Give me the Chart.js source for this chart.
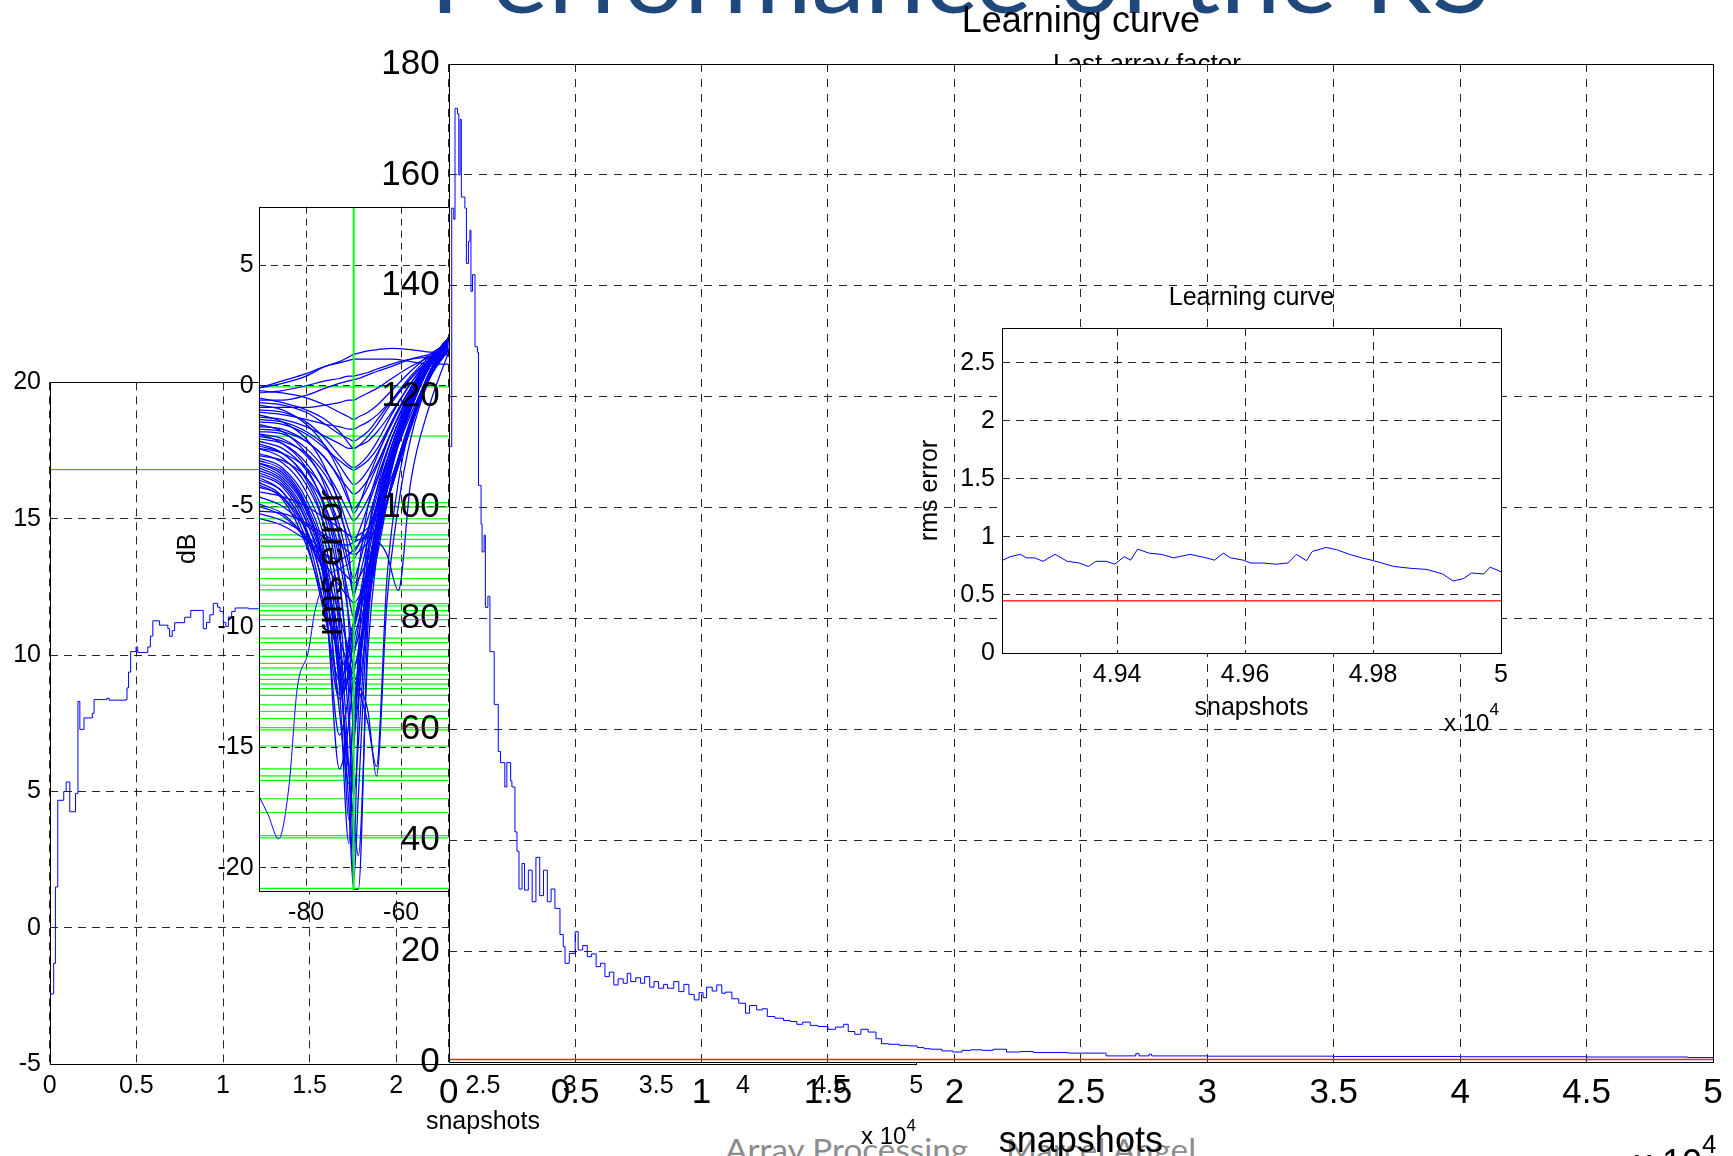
<!DOCTYPE html>
<html>
<head>
<meta charset="utf-8">
<title>Learning curve</title>
<script src="https://cdn.jsdelivr.net/npm/chart.js@4.4.1/dist/chart.umd.min.js"></script>
<style>
html, body { margin:0; padding:0; background:#ffffff; }
body { width:1733px; height:1156px; position:relative; overflow:hidden; }
canvas { position:absolute; }
.t { position:absolute; white-space:nowrap; line-height:1; font-family:'Liberation Sans', Arial, Helvetica, sans-serif; color:#000; }
.sl { font-family: Lato, 'Open Sans', sans-serif; }
.sup { position:relative; }
</style>
</head>
<body>
<div id="slideTitle" class="t sl" style="left:430px; top:-72px; font-size:96px; color:#1F497D; z-index:0;">Performance of the RS</div>
<div id="foot1" class="t sl" style="left:725px; top:1134px; font-size:30px; color:#8c8c8c; z-index:0;">Array Processing</div>
<div id="foot2" class="t sl" style="left:1006px; top:1134px; font-size:30px; color:#8c8c8c; z-index:0;">Marcel Angel</div>
<canvas id="cLeft" width="1733" height="1156" style="left:0;top:0;z-index:1"></canvas>
<canvas id="cMid" width="1733" height="1156" style="left:0;top:0;z-index:2"></canvas>
<div class="t" style="left:1147px; top:49.6px; font-size:26px; transform:translateX(-50%); z-index:3;">Last array factor</div>
<canvas id="cMain" width="1733" height="1156" style="left:0;top:0;z-index:4"></canvas>
<canvas id="cInset" width="660" height="500" style="left:880px;top:250px;z-index:5"></canvas>
<div class="t" style="left:861px; top:1123.7px; font-size:24px; z-index:6;">x 10<span class="sup" style="font-size:17px; top:-13px;">4</span></div>
<div class="t" style="left:1444px; top:711.4px; font-size:24px; z-index:6;">x 10<span class="sup" style="font-size:17px; top:-16px;">4</span></div>
<div class="t" style="left:1634px; top:1145.3px; font-size:36px; z-index:6;">x 10<span class="sup" style="font-size:26px; top:-22px;">4</span></div>

<script>
// ---------------- DATA ----------------
// Main learning curve (snapshots in units of 10^4, rms error)
const mainX = [0, 0.002, 0.012, 0.02, 0.025, 0.035, 0.04, 0.045, 0.05, 0.064, 0.07, 0.078, 0.084, 0.088, 0.094, 0.104, 0.114, 0.118, 0.128, 0.132, 0.14, 0.145, 0.155, 0.163, 0.18, 0.196, 0.205, 0.222, 0.23, 0.245, 0.25, 0.262, 0.27, 0.278, 0.29, 0.3, 0.315, 0.33, 0.345, 0.36, 0.375, 0.39, 0.405, 0.42, 0.44, 0.453, 0.46, 0.477, 0.5, 0.512, 0.53, 0.548, 0.565, 0.583, 0.6, 0.618, 0.635, 0.653, 0.67, 0.69, 0.706, 0.72, 0.74, 0.759, 0.775, 0.795, 0.812, 0.83, 0.85, 0.865, 0.89, 0.91, 0.93, 0.95, 0.971, 0.99, 1.006, 1.02, 1.042, 1.06, 1.08, 1.094, 1.12, 1.147, 1.174, 1.19, 1.218, 1.24, 1.26, 1.29, 1.324, 1.35, 1.377, 1.4, 1.43, 1.46, 1.5, 1.53, 1.562, 1.58, 1.606, 1.63, 1.659, 1.69, 1.712, 1.74, 1.782, 1.82, 1.853, 1.88, 1.906, 1.95, 1.994, 2.03, 2.065, 2.11, 2.153, 2.206, 2.26, 2.312, 2.45, 2.594, 2.6, 2.717, 2.73, 2.77, 2.78, 3.0, 3.5, 4.0, 4.5, 4.9, 5.0];
const mainY = [0, 111, 154, 152, 172, 171, 160, 170, 156, 154, 144, 148, 150, 139, 142, 129, 128, 104, 97, 92, 95, 82, 84, 74, 64.5, 56, 54, 49.6, 54, 50.7, 49.6, 41.5, 38, 31.2, 35.8, 31, 34.6, 28.9, 36.9, 30, 34.6, 28.9, 31.2, 27.7, 23, 20.8, 17.8, 19.6, 23.5, 20.2, 21, 19, 19.5, 17.2, 17.8, 15.4, 16.2, 13.9, 15, 14.2, 16, 14.5, 15.2, 14.2, 15.4, 13.5, 14.5, 13.3, 14, 13.3, 14.5, 12.7, 14, 12.2, 11.2, 12.5, 11.6, 13.5, 12.8, 13.9, 12.4, 12.6, 11.4, 10.6, 8.8, 10.2, 9.4, 9.6, 8.2, 7.9, 7.5, 7.3, 6.8, 7.2, 6.6, 6.4, 5.9, 6.3, 6.8, 5.5, 5, 5.9, 5.4, 4.2, 3.3, 3.2, 3, 2.9, 2.6, 2.4, 2.3, 2, 1.8, 2.1, 2.2, 2.1, 2.3, 1.8, 1.9, 1.7, 1.6, 1.6, 1.1, 1.5, 1.1, 1.4, 1.1, 1.05, 1.0, 0.95, 0.9, 0.8, 0.7];
const mainRefX = [0, 5];
const mainRefY = [0.45, 0.45];
const mainXTicks = [0, 0.5, 1, 1.5, 2, 2.5, 3, 3.5, 4, 4.5, 5];
const mainYTicks = [0, 20, 40, 60, 80, 100, 120, 140, 160, 180];

// Inset: last part of the learning curve
const insetX = [4.9221, 4.9233, 4.9249, 4.9258, 4.9271, 4.9284, 4.9303, 4.9322, 4.9341, 4.9355, 4.9367, 4.9383, 4.9396, 4.9411, 4.9421, 4.9432, 4.9450, 4.9469, 4.9488, 4.9514, 4.9539, 4.9552, 4.9566, 4.9577, 4.9597, 4.9609, 4.9629, 4.9648, 4.9667, 4.9680, 4.9696, 4.9705, 4.9727, 4.9743, 4.9763, 4.9782, 4.9801, 4.9833, 4.9858, 4.9884, 4.9909, 4.9925, 4.9941, 4.9954, 4.9973, 4.9983, 5.0];
const insetY = [0.80, 0.83, 0.85, 0.82, 0.82, 0.79, 0.85, 0.79, 0.775, 0.745, 0.79, 0.79, 0.765, 0.83, 0.80, 0.895, 0.86, 0.85, 0.82, 0.85, 0.82, 0.80, 0.86, 0.82, 0.80, 0.775, 0.775, 0.765, 0.775, 0.85, 0.795, 0.875, 0.91, 0.89, 0.85, 0.82, 0.795, 0.745, 0.73, 0.72, 0.68, 0.62, 0.64, 0.69, 0.68, 0.74, 0.70];
const insetRefX = [4.922, 5.0];
const insetRefY = [0.45, 0.45];
const insetRange = [4.922, 5.0];
const insetYRange = [0, 2.8];
const insetXTicks = [4.94, 4.96, 4.98, 5];
const insetYTicks = [0, 0.5, 1, 1.5, 2, 2.5];

// Left (back) figure: dB vs snapshots
const leftX = [0, 0.023, 0.033, 0.0465, 0.081, 0.095, 0.116, 0.149, 0.163, 0.174, 0.198, 0.246, 0.256, 0.314, 0.329, 0.343, 0.44, 0.446, 0.455, 0.467, 0.498, 0.508, 0.566, 0.581, 0.595, 0.634, 0.682, 0.692, 0.707, 0.721, 0.779, 0.814, 0.876, 0.886, 0.905, 0.924, 0.944, 0.969, 0.983, 1.002, 1.016, 1.031, 1.05, 1.07, 1.147, 1.3, 1.6, 2.0];
const leftY = [-2.42, -1.3, 1.5, 4.68, 5.0, 5.35, 4.26, 4.93, 8.3, 7.28, 7.7, 7.87, 8.37, 8.37, 8.42, 8.35, 8.37, 8.8, 9.38, 10.13, 10.3, 10.1, 10.3, 10.7, 11.26, 11.1, 10.97, 10.69, 10.9, 11.19, 11.39, 11.64, 11.64, 10.97, 11.2, 11.48, 11.9, 11.76, 11.6, 11.2, 11.05, 11.4, 11.6, 11.73, 11.7, 11.8, 11.9, 12.0];
const leftRefX = [0, 5];
const leftRefY = [16.8, 16.8];
const leftXTicks = [0, 0.5, 1, 1.5, 2, 2.5, 3, 3.5, 4, 4.5, 5];
const leftYTicks = [-5, 0, 5, 10, 15, 20];

// Middle figure: last array factor (angle in degrees, dB)
const afRange = [-90, -50];
const afYRange = [-20.96, 7.43];
const afXTicks = [-80, -60];
const afYTicks = [-20, -15, -10, -5, 0, 5];
const afX = [-90, -85, -80, -76, -73, -71, -70, -69, -67, -65, -62, -58, -54, -50];
const afCurves = [
  [-0.1, 0.1, 0.4, 0.8, 1.0, 1.2, 1.3, 1.35, 1.45, 1.5, 1.55, 1.5, 1.4, 1.4],
  [-0.1, 0.2, 0.5, 0.8, 0.95, 1.05, 1.1, 1.1, 1.1, 1.1, 1.1, 1.0, 0.9, 0.9],
  [-0.3, -0.2, 0.0, 0.2, 0.3, 0.4, 0.4, 0.45, 0.55, 0.7, 0.9, 1.1, 1.2, 1.3],
  [-0.6, -0.6, -0.4, -0.1, 0.1, 0.2, 0.25, 0.3, 0.45, 0.6, 0.8, 1.1, 1.3, 1.5],
  [-0.9, -0.9, -0.9, -0.8, -0.7, -0.6, -0.6, -0.5, -0.3, -0.1, 0.3, 0.8, 1.2, 1.6],
  [-0.2, -0.3, -0.5, -0.8, -1.1, -1.3, -1.4, -1.3, -1.1, -0.8, -0.2, 0.6, 1.3, 1.8],
  [-0.5, -0.7, -1.0, -1.4, -1.9, -2.4, -2.6, -2.5, -2.1, -1.6, -0.7, 0.3, 1.1, 1.7],
  [-0.7, -0.8, -1.1, -1.6, -2.0, -2.2, -2.3, -2.2, -1.9, -1.4, -0.6, 0.4, 1.2, 1.8],
  [-1.1, -1.2, -1.4, -1.6, -1.7, -1.8, -1.8, -1.7, -1.5, -1.2, -0.6, 0.3, 1.1, 1.7],
  [-1.0, -1.1, -1.5, -2.2, -2.9, -3.3, -3.4, -3.3, -2.9, -2.3, -1.2, 0.1, 1.1, 1.9],
  [-0.8, -1.0, -1.6, -2.5, -3.6, -4.7, -5.3, -5.0, -3.9, -2.9, -1.5, -0.1, 1.0, 1.8],
  [-1.3, -1.4, -1.7, -2.1, -2.4, -2.6, -2.6, -2.5, -2.3, -1.9, -1.1, 0.1, 1.1, 1.8],
  [-1.4, -1.5, -1.9, -2.5, -3.3, -3.9, -4.1, -4.0, -3.5, -2.8, -1.6, -0.1, 1.1, 1.9],
  [-1.2, -1.5, -2.2, -3.4, -5.0, -7.0, -8.8, -7.6, -5.0, -3.6, -1.9, -0.3, 1.0, 1.9],
  [-1.5, -1.6, -2.0, -2.6, -3.1, -3.4, -3.5, -3.4, -3.1, -2.6, -1.5, -0.1, 1.1, 1.9],
  [-1.6, -1.9, -2.8, -4.2, -6.4, -10.0, -14.5, -11.0, -6.2, -4.2, -2.2, -0.4, 1.0, 2.0],
  [-1.7, -1.8, -2.3, -3.0, -3.8, -4.3, -4.5, -4.4, -3.9, -3.2, -1.9, -0.3, 1.0, 2.0],
  [-1.8, -1.9, -2.3, -3.0, -3.9, -4.8, -5.1, -4.9, -4.2, -3.3, -1.9, -0.2, 1.0, 2.0],
  [-1.9, -2.0, -2.6, -3.5, -4.5, -5.3, -5.6, -5.4, -4.7, -3.8, -2.2, -0.4, 1.0, 2.0],
  [-2.0, -2.4, -3.4, -5.2, -8.0, -13.0, -19.5, -13.5, -7.0, -4.8, -2.5, -0.5, 1.0, 2.0],
  [-2.0, -2.2, -2.9, -4.0, -5.3, -6.4, -6.9, -6.6, -5.5, -4.3, -2.5, -0.5, 1.0, 2.0],
  [-2.1, -2.3, -2.8, -3.7, -4.8, -6.0, -6.5, -6.1, -5.0, -3.9, -2.2, -0.4, 1.0, 2.0],
  [-2.2, -2.4, -3.2, -4.5, -6.2, -7.8, -8.6, -8.1, -6.4, -4.8, -2.7, -0.6, 1.0, 2.0],
  [-2.3, -2.6, -3.5, -5.0, -7.2, -9.6, -10.9, -10.0, -7.2, -5.2, -2.9, -0.7, 1.0, 2.0],
  [-2.4, -2.8, -3.9, -6.0, -9.8, -18.0, -15.0, -12.0, -8.0, -5.4, -2.8, -0.6, 1.0, 2.0],
  [-2.5, -2.8, -3.8, -5.5, -8.2, -11.8, -13.8, -12.3, -8.0, -5.6, -3.1, -0.8, 1.0, 2.0],
  [-2.6, -2.8, -3.4, -4.4, -5.8, -7.4, -8.0, -7.5, -6.0, -4.5, -2.5, -0.5, 1.0, 2.0],
  [-2.6, -3.0, -4.1, -6.0, -9.2, -14.0, -17.0, -14.8, -8.7, -5.9, -3.2, -0.9, 0.9, 2.0],
  [-2.8, -3.2, -4.4, -6.5, -10.2, -16.0, -20.5, -17.0, -9.3, -6.2, -3.3, -0.9, 0.9, 2.0],
  [-2.9, -3.1, -3.8, -5.0, -6.8, -8.8, -9.6, -9.0, -6.8, -5.0, -2.8, -0.7, 0.9, 2.0],
  [-3.0, -3.4, -4.7, -7.0, -11.2, -17.5, -20.9, -20.9, -10.0, -6.5, -3.4, -1.0, 0.9, 1.9],
  [-3.1, -3.5, -4.9, -7.3, -11.8, -16.0, -18.0, -19.5, -11.0, -6.8, -3.5, -1.0, 0.8, 1.9],
  [-3.2, -3.7, -5.1, -7.6, -12.5, -19.0, -15.0, -13.0, -9.5, -6.6, -3.4, -1.0, 0.8, 1.9],
  [-3.3, -3.8, -5.2, -7.8, -12.8, -12.0, -10.2, -9.4, -7.6, -5.6, -3.0, -0.8, 0.8, 1.8],
  [-3.4, -3.9, -5.4, -8.0, -13.5, -16.5, -13.5, -12.0, -9.0, -6.4, -3.3, -0.9, 0.8, 1.8],
  [-3.5, -4.0, -5.6, -8.5, -15.9, -14.0, -12.0, -11.0, -8.6, -6.2, -3.2, -0.9, 0.8, 1.8],
  [-3.7, -4.2, -5.9, -9.0, -14.5, -12.8, -11.2, -10.4, -8.2, -6.0, -3.1, -0.8, 0.8, 1.8],
  [-3.8, -4.4, -6.1, -9.4, -13.0, -11.8, -10.6, -9.8, -7.9, -5.8, -3.0, -0.8, 0.8, 1.7],
  [-4.0, -4.6, -6.4, -9.6, -12.2, -11.2, -10.0, -9.3, -7.6, -5.6, -2.9, -0.7, 0.8, 1.7],
  [-4.4, -4.6, -5.0, -5.5, -5.9, -6.2, -6.3, -6.2, -5.9, -5.3, -3.8, -1.5, 0.4, 1.6],
  [-4.9, -5.3, -6.3, -7.4, -8.3, -8.8, -9.0, -8.8, -7.9, -6.6, -4.0, -1.4, 0.4, 1.5],
  [-5.0, -5.4, -6.4, -7.8, -9.5, -11.0, -11.6, -11.2, -9.0, -7.0, -4.0, -1.5, 0.5, 1.6],
  [-5.2, -5.3, -5.7, -6.2, -6.6, -6.9, -7.0, -6.9, -6.5, -5.8, -4.2, -1.7, 0.3, 1.5],
  [-5.3, -5.6, -6.2, -7.0, -7.6, -8.0, -8.2, -8.0, -7.2, -6.2, -4.2, -1.8, 0.4, 1.5],
  [-5.5, -5.8, -6.4, -7.0, -7.2, -7.0, -6.8, -6.6, -6.0, -5.0, -3.2, -1.2, 0.5, 1.6]
];
// curves whose nulls fall between the main grid angles
const afX2 = [-90, -85, -80, -76, -74, -72.5, -71, -70, -69, -67, -65.2, -63, -60.6, -58, -54, -50];
const afCurves2 = [
  [-3.6, -4.1, -5.6, -8.0, -10.0, -12.2, -10.5, -9.8, -9.0, -7.6, -6.3, -4.8, -3.2, -1.6, 0.5, 1.8],
  [-3.9, -4.4, -6.0, -8.6, -10.6, -12.8, -10.8, -10.0, -9.2, -7.8, -6.4, -4.9, -3.3, -1.7, 0.5, 1.8],
  [-3.2, -3.6, -5.0, -7.5, -10.0, -12.8, -15.9, -13.5, -11.5, -8.6, -6.5, -4.8, -3.1, -1.5, 0.6, 1.9],
  [-4.2, -4.6, -6.0, -8.0, -9.6, -10.8, -11.6, -12.0, -12.4, -13.5, -16.2, -9.0, -5.0, -2.2, 0.3, 1.6],
  [-4.6, -5.0, -5.8, -6.3, -6.5, -6.6, -6.6, -6.5, -6.4, -6.3, -6.4, -7.0, -8.5, -4.0, -0.8, 1.4],
  [-4.1, -4.7, -6.6, -9.2, -10.6, -11.4, -11.9, -12.2, -12.6, -14.0, -15.8, -8.0, -4.0, -1.6, 0.6, 1.6]
];
const afOutX = [-90, -88, -85.8, -83.6, -81.9, -79.5, -78.2, -75.7, -73, -70, -67, -62, -58, -54, -50];
const afOutY = [-17, -17.8, -18.8, -16.6, -12.6, -11.0, -9.4, -8.0, -7.6, -7.2, -6, -3, -1, 0.8, 2.0];
const afGreenLevels = [-0.05, -2.09, -4.85, -5.04, -5.52, -5.71, -6.19, -6.38, -6.66, -7.14, -7.61, -8.0, -8.28, -8.47, -9.04, -9.14, -9.33, -9.52, -9.71, -10.47, -10.66, -10.95, -11.23, -11.52, -11.71, -12.0, -12.19, -12.38, -12.57, -12.85, -13.24, -13.52, -13.81, -14.19, -14.28, -14.95, -15.9, -16.19, -16.38, -17.14, -17.71, -18.67, -18.76, -20.86];
const afSteerAngle = -70;

// ---------------- CHARTS ----------------
const FONT = "'Liberation Sans', Arial, Helvetica, sans-serif";
Chart.defaults.font.family = FONT;
Chart.defaults.color = '#000';
Chart.defaults.animation = false;
Chart.defaults.responsive = false;
Chart.defaults.devicePixelRatio = 1;
Chart.defaults.plugins.legend.display = false;
Chart.defaults.plugins.tooltip.enabled = false;
Chart.defaults.elements.point.radius = 0;
Chart.defaults.elements.line.borderWidth = 1;

const plotBg = { id: 'plotBg', beforeDraw(chart) {
  const a = chart.chartArea, c = chart.ctx;
  c.save(); c.fillStyle = '#ffffff'; c.fillRect(a.left, a.top, a.right - a.left, a.bottom - a.top); c.restore();
}};
const frame = { id: 'frame', afterDatasetsDraw(chart) {
  const a = chart.chartArea, c = chart.ctx;
  const l = Math.round(a.left), t = Math.round(a.top), r = Math.round(a.right), b = Math.round(a.bottom);
  c.save(); c.strokeStyle = '#000'; c.lineWidth = 1; c.setLineDash([]);
  c.strokeRect(l + 0.5, t + 0.5, r - l, b - t); c.restore();
}};

function pts(xs, ys) { return xs.map((x, i) => ({ x: x, y: ys[i] })); }

function axis(o) {
  return {
    type: 'linear', min: o.min, max: o.max,
    afterBuildTicks: ax => { ax.ticks = o.ticks.map(v => ({ value: v })); },
    afterFit: o.fit,
    ticks: { font: { size: o.fs }, padding: o.pad, autoSkip: false, maxRotation: 0, minRotation: 0, color: '#000',
             callback: v => String(v) },
    grid: { color: 'rgba(0,0,0,0.85)', lineWidth: 1, drawTicks: false },
    border: { display: false, dash: o.dash },
    title: o.title ? { display: true, text: o.title, color: '#000',
                       font: { size: o.tfs, lineHeight: o.tlh || 1.2 }, padding: { top: 0, bottom: 0 } }
                   : { display: false }
  };
}

// Left (back) figure
new Chart(document.getElementById('cLeft'), {
  type: 'line',
  data: { datasets: [
    { data: pts(leftX, leftY), borderColor: '#0000ff', stepped: true, order: 0 },
    { data: pts(leftRefX, leftRefY), borderColor: '#5a5aff', order: 1 }
  ]},
  options: {
    layout: { padding: { left: 4, top: 382.4, right: 816.8, bottom: 19.2 } },
    scales: {
      x: axis({ min: 0, max: 5, ticks: leftXTicks, fs: 25, pad: 7, dash: [8, 6], title: 'snapshots', tfs: 25,
                fit: s => { s.height = 72.5; } }),
      y: axis({ min: -5, max: 20, ticks: leftYTicks, fs: 25, pad: 8.7, dash: [8, 6],
                fit: s => { s.width = 45.7; } })
    }
  },
  plugins: [plotBg, frame]
});

// Middle figure: array factor
const midDatasets = [];
const blueStyle = { borderColor: '#0000ff', borderWidth: 1.25, cubicInterpolationMode: 'monotone', order: 1 };
midDatasets.push({ data: [{ x: afSteerAngle, y: afYRange[0] }, { x: afSteerAngle, y: afYRange[1] }],
                   borderColor: '#00ff00', borderWidth: 2, order: 0 });
afCurves.forEach(c => midDatasets.push(Object.assign({ data: pts(afX, c) }, blueStyle)));
afCurves2.forEach(c => midDatasets.push(Object.assign({ data: pts(afX2, c) }, blueStyle)));
midDatasets.push(Object.assign({ data: pts(afOutX, afOutY) }, blueStyle, { borderWidth: 1 }));
afGreenLevels.forEach(v => midDatasets.push({ data: [{ x: afRange[0], y: v }, { x: afRange[1], y: v }],
                                             borderColor: '#00ff00', borderWidth: 1.2, order: 2 }));
new Chart(document.getElementById('cMid'), {
  type: 'line',
  data: { datasets: midDatasets },
  options: {
    layout: { padding: { left: 173.6, top: 206.7, right: 1284.3, bottom: 225.2 } },
    scales: {
      x: axis({ min: afRange[0], max: afRange[1], ticks: afXTicks, fs: 25, pad: 7.8, dash: [7, 5],
                fit: s => { s.height = 40; } }),
      y: axis({ min: afYRange[0], max: afYRange[1], ticks: afYTicks, fs: 25, pad: 5, dash: [7, 5],
                title: 'dB', tfs: 25, fit: s => { s.width = 85; } })
    }
  },
  plugins: [plotBg, frame]
});

// Main learning curve
new Chart(document.getElementById('cMain'), {
  type: 'line',
  data: { datasets: [
    { data: pts(mainX, mainY), borderColor: '#0000ff', stepped: true, order: 0 },
    { data: pts(mainRefX, mainRefY), borderColor: '#ff2020', borderWidth: 1.6, order: 1 }
  ]},
  options: {
    layout: { padding: { left: 310, top: 0, right: 20, bottom: 0 } },
    plugins: { title: { display: true, text: 'Learning curve', fullSize: false, color: '#000',
                        font: { size: 36, weight: 'normal', lineHeight: 1.2 }, padding: { top: 0, bottom: 20.8 } } },
    scales: {
      x: axis({ min: 0, max: 5, ticks: mainXTicks, fs: 35, pad: 10, dash: [8, 7], title: 'snapshots', tfs: 36, tlh: 0.8,
                fit: s => { s.height = 94; } }),
      y: axis({ min: 0, max: 180, ticks: mainYTicks, fs: 35, pad: 9, dash: [8, 7], title: 'rms error', tfs: 36,
                fit: s => { s.width = 138.7; } })
    }
  },
  plugins: [plotBg, frame]
});

// Inset learning curve
new Chart(document.getElementById('cInset'), {
  type: 'line',
  data: { datasets: [
    { data: pts(insetX, insetY), borderColor: '#0000ff', order: 0 },
    { data: pts(insetRefX, insetRefY), borderColor: '#ff3030', borderWidth: 1.5, order: 1 }
  ]},
  options: {
    layout: { padding: { left: 35.6, top: 33.4, right: 39, bottom: 26.5 } },
    plugins: { title: { display: true, text: 'Learning curve', fullSize: false, color: '#000',
                        font: { size: 25, weight: 'normal', lineHeight: 1.2 }, padding: { top: 0, bottom: 14.6 } } },
    scales: {
      x: axis({ min: insetRange[0], max: insetRange[1], ticks: insetXTicks, fs: 25, pad: 7, dash: [8, 6],
                title: 'snapshots', tfs: 25, fit: s => { s.height = 70.5; } }),
      y: axis({ min: insetYRange[0], max: insetYRange[1], ticks: insetYTicks, fs: 25, pad: 7, dash: [8, 6],
                title: 'rms error', tfs: 25, fit: s => { s.width = 86.4; } })
    }
  },
  plugins: [plotBg, frame]
});

// Fit slide texts to their measured widths
function fitWidth(id, w) {
  const el = document.getElementById(id);
  const r = el.getBoundingClientRect().width;
  if (r > 0) { el.style.transformOrigin = '0 0'; el.style.transform = 'scaleX(' + (w / r) + ')'; }
}
fitWidth('slideTitle', 1060);
fitWidth('foot1', 243);
fitWidth('foot2', 190);
</script>
</body>
</html>
